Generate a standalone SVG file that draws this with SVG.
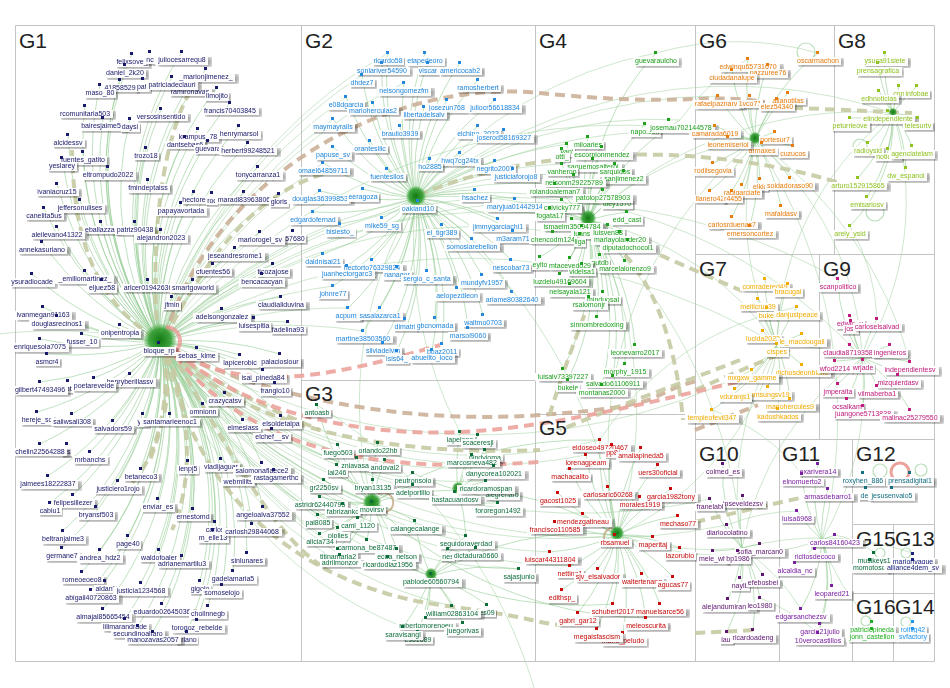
<svg xmlns="http://www.w3.org/2000/svg" width="950" height="688" viewBox="0 0 950 688">
<defs>
<filter id="lb" x="-0.25" y="-0.6" width="1.55" height="2.5" primitiveUnits="objectBoundingBox" color-interpolation-filters="sRGB">
<feFlood flood-color="#000" flood-opacity="0.38" x="0.03" y="0.22" width="1.08" height="1.12" result="s"/>
<feGaussianBlur in="s" stdDeviation="0.045 0.3" result="sb"/>
<feFlood flood-color="#fff" flood-opacity="0.96" x="-0.04" y="0" width="1.08" height="1.05" result="w"/>
<feMerge><feMergeNode in="sb"/><feMergeNode in="w"/><feMergeNode in="SourceGraphic"/></feMerge>
</filter>
<radialGradient id="hub"><stop offset="0" stop-color="#137a13"/><stop offset="0.7" stop-color="#2a9a2a" stop-opacity="0.85"/><stop offset="1" stop-color="#6cc06c" stop-opacity="0.3"/></radialGradient>
</defs>
<style>
.bd{fill:none;stroke:#c4c4c4;stroke-width:1}
.gl{font-family:"Liberation Sans",Arial,sans-serif;font-size:21px;fill:#222;filter:none;text-anchor:start}
.e{fill:none;stroke:#8cc98c;stroke-opacity:.55;stroke-width:1}
.ex{fill:none;stroke:#9bd09b;stroke-opacity:.5;stroke-width:1}
.k{fill:none;stroke:#c6caa3;stroke-width:4;stroke-dasharray:10 6;stroke-opacity:.9}
.r{fill:none;stroke:#c9ab93;stroke-width:4;stroke-dasharray:10 6;stroke-opacity:.85}
.p{fill:none;stroke:#eba39b;stroke-width:4;stroke-dasharray:10 6;stroke-opacity:.9}
.lp{fill:none;stroke:#8cc98c;stroke-opacity:.6;stroke-width:1.2}
text{font-family:"Liberation Sans",Arial,sans-serif;font-size:7px;text-anchor:middle;filter:url(#lb)}
rect{width:3px;height:3px}
.a{fill:#19196b}.b{fill:#2188dd}.c{fill:#0d6e3c}.d{fill:#1ea01e}.f5{fill:#c80a0a}.f{fill:#e87d0c}.g{fill:#f2ad00}.h{fill:#8fc31f}.i{fill:#c01a7c}.j{fill:#5d1670}.k2{fill:#7b1fa2}.l{fill:#126e82}.m{fill:#0b6b3a}.o{fill:#1a237e}.q{fill:#1fb01f}.t{fill:#2196f3}
</style>
<path d="M0 0H950V688H0z" fill="#fff"/>
<g id="panels">
<path class="bd" d="M15.5 25.5H934.5V661.5H15.5zM301.5 25.5V661.5M535.5 25.5V661.5M695.5 25.5V661.5M834.5 25.5V254.5M695.5 254.5H934.5M819.5 254.5V439.5M695.5 439.5H934.5M301.5 380.5H535.5M535.5 414.5H695.5M779.5 439.5V661.5M852.5 439.5V661.5M852.5 524.5H934.5M852.5 593.5H934.5M893.5 524.5V661.5"/>
</g>
<g id="connectors">
<path class="e" d="M160 342A300 300 0 0 1 132 54M160 342A300 300 0 0 1 182 52M160 342A300 300 0 0 1 125 65M160 342A300 300 0 0 1 206 69M160 342A300 300 0 0 1 120 80M160 342A300 300 0 0 1 100 85M160 342A300 300 0 0 1 172 77M160 342A300 300 0 0 1 190 84M160 342A300 300 0 0 1 217 88M160 342A300 300 0 0 1 230 103M160 342A300 300 0 0 1 85 106M160 342A300 300 0 0 1 161 109M160 342A300 300 0 0 1 103 118M160 342A300 300 0 0 1 130 119M160 342A300 300 0 0 1 198 129M160 342A300 300 0 0 1 239 126M160 342A300 300 0 0 1 68 135M160 342A300 300 0 0 1 185 137M160 342A300 300 0 0 1 208 141M160 342A300 300 0 0 1 248 143M160 342A300 300 0 0 1 146 148M160 342A300 300 0 0 1 83 152M160 342A300 300 0 0 1 62 158M160 342A300 300 0 0 1 108 167M160 342A300 300 0 0 1 258 167M160 342A300 300 0 0 1 148 180M160 342A300 300 0 0 1 57 184M160 342A300 300 0 0 1 194 192M160 342A300 300 0 0 1 244 192M160 342A300 300 0 0 1 279 194M160 342A300 300 0 0 1 80 200M160 342A300 300 0 0 1 181 203M160 342A300 300 0 0 1 44 208M160 342A300 300 0 0 1 101 222M160 342A300 300 0 0 1 135 222M160 342A300 300 0 0 1 57 227M160 342A300 300 0 0 1 161 230M160 342A300 300 0 0 1 260 232M160 342A300 300 0 0 1 42 242M160 342A300 300 0 0 1 235 248M160 342A300 300 0 0 1 213 264M160 342A300 300 0 0 1 273 264M160 342A300 300 0 0 1 32 274M160 342A300 300 0 0 1 85 271M160 342A300 300 0 0 1 262 274M160 342A300 300 0 0 1 102 280M160 342A300 300 0 0 1 148 280M160 342A300 300 0 0 1 193 280M160 342A300 300 0 0 1 172 297M160 342A300 300 0 0 1 281 297M160 342A300 300 0 0 1 43 307M160 342A300 300 0 0 1 222 309M160 342A300 300 0 0 1 57 316M160 342A300 300 0 0 1 254 318M160 342A300 300 0 0 1 288 322M160 342A300 300 0 0 1 120 325M160 342A300 300 0 0 1 82 334M160 342A300 300 0 0 1 40 339M160 342A300 300 0 0 1 197 348M160 342A300 300 0 0 1 47 354M160 342A300 300 0 0 1 240 355M160 342A300 300 0 0 1 280 354M160 342A300 300 0 0 1 263 370M160 342A300 300 0 0 1 130 374M160 342A300 300 0 0 1 40 382M160 342A300 300 0 0 1 94 378M160 342A300 300 0 0 1 275 383M160 342A300 300 0 0 1 225 393M160 342A300 300 0 0 1 203 404M160 342A300 300 0 0 1 37 412M160 342A300 300 0 0 1 72 414M160 342A300 300 0 0 1 170 414M160 342A300 300 0 0 1 113 421M160 342A300 300 0 0 1 243 420M160 342A300 300 0 0 1 281 416M160 342A300 300 0 0 1 272 429M160 342A300 300 0 0 1 40 444M160 342A300 300 0 0 1 90 452M160 342A300 300 0 0 1 188 461M160 342A300 300 0 0 1 221 459M160 342A300 300 0 0 1 141 469M160 342A300 300 0 0 1 262 463M160 342A300 300 0 0 1 238 474M160 342A300 300 0 0 1 48 476M160 342A300 300 0 0 1 118 481M160 342A300 300 0 0 1 73 495M160 342A300 300 0 0 1 50 503M160 342A300 300 0 0 1 158 499M160 342A300 300 0 0 1 96 507M160 342A300 300 0 0 1 193 509M160 342A300 300 0 0 1 263 507M160 342A300 300 0 0 1 215 522M160 342A300 300 0 0 1 252 524M160 342A300 300 0 0 1 63 531M160 342A300 300 0 0 1 128 536M160 342A300 300 0 0 1 62 548M160 342A300 300 0 0 1 100 550M160 342A300 300 0 0 1 159 550M160 342A300 300 0 0 1 182 556M160 342A300 300 0 0 1 247 553M160 342A300 300 0 0 1 82 572M160 342A300 300 0 0 1 233 571M160 342A300 300 0 0 1 105 581M160 342A300 300 0 0 1 141 583M160 342A300 300 0 0 1 200 581M160 342A300 300 0 0 1 222 585M160 342A300 300 0 0 1 91 590M160 342A300 300 0 0 1 162 604M160 342A300 300 0 0 1 208 606M160 342A300 300 0 0 1 103 609M160 342A300 300 0 0 1 125 619M160 342A300 300 0 0 1 197 620M160 342A300 300 0 0 1 138 626M160 342A300 300 0 0 1 153 632M160 342A300 300 0 0 1 187 632"/>
<path class="ex" d="M160 342A500 500 0 0 1 323 163M160 342A500 500 0 0 1 333 119M160 342A500 500 0 0 1 346 97M160 342A500 500 0 0 1 362 75M160 342A500 500 0 0 1 388 53M160 342A500 500 0 0 1 404 83M160 342A500 500 0 0 1 416 198M160 342A500 500 0 0 1 320 191M160 342A500 500 0 0 1 340 224M160 342A500 500 0 0 1 323 254M160 342A500 500 0 0 1 333 286M160 342A500 500 0 0 1 348 308M160 342A500 500 0 0 1 363 331M160 342A500 500 0 1 0 317 405M160 342A500 500 0 0 0 338 445M160 342A500 500 0 0 0 357 458M160 342A500 500 0 0 0 337 465M160 342A500 500 0 0 0 324 480M160 342A500 500 0 0 0 320 497M160 342A500 500 0 0 0 343 504M160 342A500 500 0 0 0 318 515M160 342A500 500 0 0 0 338 528M160 342A500 500 0 0 0 320 534M160 342A500 500 0 0 0 367 540M160 342A500 500 0 0 0 338 549M160 342A500 500 0 0 0 340 555M160 342A500 500 0 0 0 372 503M160 342A500 500 0 0 0 431 576M160 342A500 500 0 0 0 413 485M160 342A500 500 0 0 0 466 536M160 342A500 500 0 0 1 588 220M160 342A500 500 0 0 1 562 200M160 342A500 500 0 0 1 553 232M160 342A500 500 0 0 0 617 535M160 342A500 500 0 0 0 600 440M160 342A500 500 0 0 0 550 552M160 342A500 500 0 0 0 570 566M160 342A500 500 0 0 0 586 455M160 342A600 600 0 0 0 752 370M160 342A600 600 0 0 1 777 345M160 342A600 600 0 0 1 755 140M160 342A600 600 0 0 1 838 279M160 342A600 600 0 0 0 710 499M160 342A600 600 0 0 0 727 525M160 342A400 400 0 0 0 498 503M160 342A400 400 0 0 0 519 569M160 342A400 400 0 0 0 452 606M160 342A400 400 0 0 0 403 627M160 342A400 400 0 0 0 486 481M160 342A400 400 0 0 0 494 466"/>
<path class="e" d="M416 198A250 250 0 0 1 388 53M416 198A250 250 0 0 1 425 53M416 198A250 250 0 0 1 382 63M416 198A250 250 0 0 1 428 63M416 198A250 250 0 0 1 460 63M416 198A250 250 0 0 1 362 75M416 198A250 250 0 0 1 404 83M416 198A250 250 0 0 1 478 80M416 198A250 250 0 0 1 346 97M416 198A250 250 0 0 1 373 103M416 198A250 250 0 0 1 447 100M416 198A250 250 0 0 1 495 100M416 198A250 250 0 0 1 424 107M416 198A250 250 0 0 1 333 119M416 198A250 250 0 0 1 400 126M416 198A250 250 0 0 1 478 126M416 198A250 250 0 0 1 504 130M416 198A250 250 0 0 1 370 141M416 198A250 250 0 0 1 333 147M416 198A250 250 0 0 1 430 159M416 198A250 250 0 0 1 460 153M416 198A250 250 0 0 1 495 161M416 198A250 250 0 0 1 323 163M416 198A250 250 0 0 1 387 169M416 198A250 250 0 0 1 513 169M416 198A250 250 0 0 1 320 191M416 198A250 250 0 0 1 363 189M416 198A250 250 0 0 1 475 190M416 198A250 250 0 0 1 515 199M416 198A250 250 0 0 1 313 212M416 198A250 250 0 0 1 382 218M416 198A250 250 0 0 1 340 224M416 198A250 250 0 0 1 442 225M416 198A250 250 0 0 1 498 219M416 198A250 250 0 0 1 513 231M416 198A250 250 0 0 1 472 239M416 198A250 250 0 0 1 323 254M416 198A250 250 0 0 1 372 260M416 198A250 250 0 0 1 347 266M416 198A250 250 0 0 1 397 267M416 198A250 250 0 0 1 427 271M416 198A250 250 0 0 1 511 260M416 198A250 250 0 0 1 482 275M416 198A250 250 0 0 1 333 286M416 198A250 250 0 0 1 457 288M416 198A250 250 0 0 1 512 292M416 198A250 250 0 0 1 348 308M416 198A250 250 0 0 1 380 308M416 198A250 250 0 0 1 483 315M416 198A250 250 0 0 1 405 319M416 198A250 250 0 0 1 435 318M416 198A250 250 0 0 1 468 328M416 198A250 250 0 0 1 363 331M416 198A250 250 0 0 1 383 343M416 198A250 250 0 0 1 442 344M416 198A250 250 0 0 1 397 351M416 198A250 250 0 0 1 432 350"/>
<path class="ex" d="M416 198A400 400 0 0 1 588 220M416 198A400 400 0 0 1 567 144M416 198A400 400 0 0 1 562 164M416 198A400 400 0 0 1 574 175M416 198A400 400 0 0 1 555 184M416 198A400 400 0 0 1 656 53M416 198A400 400 0 0 1 680 120M416 198A500 500 0 0 1 755 140M416 198A500 500 0 0 1 720 96M416 198A400 400 0 0 0 460 432M416 198A400 400 0 0 0 372 503M416 198A500 500 0 0 1 617 535M416 198A500 500 0 0 1 893 113M416 198A500 500 0 0 1 862 358"/>
<path class="e" d="M372 503A200 200 0 0 1 317 405M372 503A200 200 0 0 1 338 445M372 503A200 200 0 0 1 378 443M372 503A200 200 0 0 1 357 458M372 503A200 200 0 0 1 385 460M372 503A200 200 0 0 1 337 465M372 503A200 200 0 0 1 413 473M372 503A200 200 0 0 1 324 480M372 503A200 200 0 0 1 373 480M372 503A200 200 0 0 1 413 485M372 503A200 200 0 0 1 320 497M372 503A200 200 0 0 1 343 504M372 503A200 200 0 0 1 318 515M372 503A200 200 0 0 1 358 518M372 503A200 200 0 0 1 415 521M372 503A200 200 0 0 1 338 528M372 503A200 200 0 0 1 320 534M372 503A200 200 0 0 1 367 540M372 503A200 200 0 0 1 338 549M372 503A200 200 0 0 1 397 549M372 503A200 200 0 0 1 340 555M372 503A200 200 0 0 1 388 557M431 576A200 200 0 0 1 397 549M431 576A200 200 0 0 1 388 557M431 576A200 200 0 0 1 448 549M431 576A200 200 0 0 1 476 548M431 576A200 200 0 0 1 452 606M431 576A200 200 0 0 1 487 605M431 576A200 200 0 0 1 426 618M431 576A200 200 0 0 1 463 623M431 576A200 200 0 0 1 403 627M431 576A200 200 0 0 1 418 632M431 576A200 200 0 0 1 466 536M431 576A200 200 0 0 1 519 569M431 576A200 200 0 0 1 415 521M458 490A200 200 0 0 1 460 432M458 490A200 200 0 0 1 478 435M458 490A200 200 0 0 1 485 450M458 490A200 200 0 0 1 472 455M458 490A200 200 0 0 1 494 466M458 490A200 200 0 0 1 486 481M458 490A200 200 0 0 1 500 487M458 490A200 200 0 0 1 498 503M458 490A200 200 0 0 1 466 536M458 490A200 200 0 0 1 413 473M372 503A300 300 0 0 1 458 490M431 576A300 300 0 0 1 617 535M458 490A300 300 0 0 1 617 535M372 503A400 400 0 0 1 600 440M431 576A400 400 0 0 0 613 604M372 503A400 400 0 0 0 646 618"/>
<path class="e" d="M588 220A250 250 0 0 1 656 53M588 220A250 250 0 0 1 645 124M588 220A250 250 0 0 1 680 120M588 220A250 250 0 0 1 588 137M588 220A250 250 0 0 1 567 144M588 220A250 250 0 0 1 562 149M588 220A250 250 0 0 1 602 147M588 220A250 250 0 0 1 593 159M588 220A250 250 0 0 1 562 164M588 220A250 250 0 0 1 615 164M588 220A250 250 0 0 1 624 171M588 220A250 250 0 0 1 574 175M588 220A250 250 0 0 1 555 184M588 220A250 250 0 0 1 603 190M588 220A250 250 0 0 1 617 196M588 220A250 250 0 0 1 562 200M588 220A250 250 0 0 1 550 208M588 220A250 250 0 0 1 627 212M588 220A250 250 0 0 1 572 219M588 220A250 250 0 0 1 582 226M588 220A250 250 0 0 1 608 225M588 220A250 250 0 0 1 553 232M588 220A250 250 0 0 1 620 232M588 220A250 250 0 0 1 580 234M588 220A250 250 0 0 1 628 240M588 220A250 250 0 0 1 540 257M588 220A250 250 0 0 1 600 255M588 220A250 250 0 0 1 570 258M588 220A250 250 0 0 1 625 261M588 220A250 250 0 0 1 582 264M588 220A250 250 0 0 1 560 274M588 220A250 250 0 0 1 570 284M588 220A250 250 0 0 1 603 292M588 220A250 250 0 0 1 589 297M588 220A250 250 0 0 1 597 317M588 220A250 250 0 0 1 635 345M588 220A250 250 0 0 1 625 364M588 220A250 250 0 0 1 563 369M588 220A250 250 0 0 1 613 376M588 220A250 250 0 0 1 568 380M588 220A250 250 0 0 1 602 385"/>
<path class="e" d="M617 535A200 200 0 0 1 600 440M617 535A200 200 0 0 1 612 445M617 535A200 200 0 0 1 641 448M617 535A200 200 0 0 1 586 455M617 535A200 200 0 0 1 658 465M617 535A200 200 0 0 1 570 469M617 535A200 200 0 0 1 608 487M617 535A200 200 0 0 1 671 489M617 535A200 200 0 0 1 558 493M617 535A200 200 0 0 1 640 497M617 535A200 200 0 0 1 583 514M617 535A200 200 0 0 1 678 516M617 535A200 200 0 0 1 555 522M617 535A200 200 0 0 1 653 537M617 535A200 200 0 0 1 680 548M617 535A200 200 0 0 1 550 552M617 535A200 200 0 0 1 570 566M617 535A200 200 0 0 1 598 569M617 535A200 200 0 0 1 642 574M617 535A200 200 0 0 1 673 577M617 535A200 200 0 0 1 562 590M617 535A200 200 0 0 1 613 604M617 535A200 200 0 0 1 660 604M617 535A200 200 0 0 1 578 613M617 535A200 200 0 0 1 646 618M617 535A200 200 0 0 1 597 629M617 535A200 200 0 0 1 623 633"/>
<path class="e" d="M755 140A200 200 0 0 1 818 53M755 140A200 200 0 0 1 748 59M755 140A200 200 0 0 1 768 65M755 140A200 200 0 0 1 732 70M755 140A200 200 0 0 1 718 96M755 140A200 200 0 0 1 750 96M755 140A200 200 0 0 1 788 93M755 140A200 200 0 0 1 777 99M755 140A200 200 0 0 1 715 126M755 140A200 200 0 0 1 775 132M755 140A200 200 0 0 1 728 137M755 140A200 200 0 0 1 762 143M755 140A200 200 0 0 1 793 146M755 140A200 200 0 0 1 713 163M755 140A200 200 0 0 1 790 178M755 140A200 200 0 0 1 760 179M755 140A200 200 0 0 1 742 185M755 140A200 200 0 0 1 710 191M755 140A200 200 0 0 1 732 191M755 140A200 200 0 0 1 781 206M755 140A200 200 0 0 1 732 217M755 140A200 200 0 0 1 750 226M777 345A200 200 0 0 1 765 279M777 345A200 200 0 0 1 788 284M777 345A200 200 0 0 1 758 299M777 345A200 200 0 0 1 767 308M777 345A200 200 0 0 1 797 307M777 345A200 200 0 0 1 763 331M777 345A200 200 0 0 1 802 334M777 345A200 200 0 0 1 802 365M777 345A200 200 0 0 1 752 370M777 345A200 200 0 0 1 768 387M777 345A200 200 0 0 1 735 389M777 345A200 200 0 0 1 790 399M777 345A200 200 0 0 1 778 409M777 345A200 200 0 0 1 712 410M893 113A150 150 0 0 1 885 53M893 113A150 150 0 0 1 878 63M893 113A150 150 0 0 1 899 86M893 113A150 150 0 0 1 917 86M893 113A150 150 0 0 1 879 91M893 113A150 150 0 0 1 918 118M893 113A150 150 0 0 1 850 118M893 113A150 150 0 0 1 868 143M893 113A150 150 0 0 1 888 149M893 113A150 150 0 0 1 912 146M893 113A150 150 0 0 1 906 168M893 113A150 150 0 0 1 858 178M893 113A150 150 0 0 1 867 197M893 113A150 150 0 0 1 850 226M862 358A150 150 0 0 1 838 279M862 358A150 150 0 0 1 850 316M862 358A150 150 0 0 1 851 321M862 358A150 150 0 0 1 877 319M862 358A150 150 0 0 1 850 345M862 358A150 150 0 0 1 890 345M862 358A150 150 0 0 1 835 361M862 358A150 150 0 0 1 910 362M862 358A150 150 0 0 1 898 375M862 358A150 150 0 0 1 838 384M862 358A150 150 0 0 1 877 386M862 358A150 150 0 0 1 847 399M862 358A150 150 0 0 1 863 406M862 358A150 150 0 0 1 910 410M742 548A150 150 0 0 1 723 464M742 548A150 150 0 0 1 743 496M742 548A150 150 0 0 1 710 499M742 548A150 150 0 0 1 727 525M742 548A150 150 0 0 1 760 544M742 548A150 150 0 0 1 713 551M742 548A150 150 0 0 1 738 551M742 548A150 150 0 0 1 740 578M742 548A150 150 0 0 1 763 575M742 548A150 150 0 0 1 728 599M742 548A150 150 0 0 1 760 598M742 548A150 150 0 0 1 727 632M742 548A150 150 0 0 1 753 630M822 540A150 150 0 0 1 818 464M822 540A150 150 0 0 1 802 474M822 540A150 150 0 0 1 828 489M822 540A150 150 0 0 1 797 511M822 540A150 150 0 0 1 835 535M822 540A150 150 0 0 1 815 549M822 540A150 150 0 0 1 795 563M822 540A150 150 0 0 1 832 586M822 540A150 150 0 0 1 801 609M822 540A150 150 0 0 1 820 624M822 540A150 150 0 0 1 818 633"/>
<path class="ex" d="M588 220A300 300 0 0 1 755 140M617 535A300 300 0 0 0 777 345M755 140A300 300 0 0 1 862 358M617 535A300 300 0 0 0 742 548M617 535A300 300 0 0 0 822 540M588 220A400 400 0 0 1 617 535M893 113A300 300 0 0 1 862 358M755 140A300 300 0 0 0 777 345M777 345A300 300 0 0 1 862 358M588 220A300 300 0 0 1 777 345M588 220A400 400 0 0 1 893 113M755 140A400 400 0 0 1 910 362M742 548A300 300 0 0 1 862 358M777 345A300 300 0 0 0 742 548M822 540A300 300 0 0 0 862 358M755 140A500 500 0 0 1 822 540M588 220A500 500 0 0 1 742 548M777 345A300 300 0 0 1 893 113M617 535A400 400 0 0 1 755 140M712 410A200 200 0 0 1 802 474M600 440A300 300 0 0 1 797 307M850 226A200 200 0 0 1 877 319M656 53A300 300 0 0 1 818 53M680 120A200 200 0 0 1 748 59M742 548A200 200 0 0 1 801 609M760 598A200 200 0 0 1 818 633M727 525A200 200 0 0 1 797 511M835 535A100 100 0 0 1 874 552M742 548A300 300 0 0 1 913 553M822 540A200 200 0 0 0 872 622"/>
<path class="r" d="M165 336C215 175 390 78 540 93S700 92 765 102"/>
<path class="k" d="M777 107L912 113"/>
<path class="k" d="M418 195C480 170 540 158 620 155S790 165 855 188"/>
<path class="k" d="M155 338C95 300 74 240 72 150"/>
<path class="k" d="M158 336C150 250 160 150 188 95"/>
<path class="k" d="M165 338C210 250 260 190 330 172"/>
<path class="k" d="M165 352C170 420 150 470 125 489"/>
<path class="k" d="M168 352C195 430 190 490 172 530"/>
<path class="k" d="M170 350C230 450 270 530 320 565"/>
<path class="r" d="M172 350C260 395 400 425 540 415S640 395 700 380"/>
<path class="k" d="M172 352C260 440 420 455 540 450"/>
<path class="k" d="M168 356C200 520 330 590 440 605S520 620 560 625"/>
<path class="k" d="M600 235C645 260 675 330 683 420"/>
<path class="k" d="M590 300C575 340 560 380 548 420"/>
<path class="k" d="M740 360C690 380 620 405 560 430"/>
<path class="k" d="M660 255C690 268 720 282 745 292"/>
<path class="k" d="M695 390C730 375 760 362 790 350"/>
<path class="r" d="M695 430C720 420 740 412 758 405"/>
<path class="k" d="M695 522C740 512 780 502 805 497"/>
<path class="k" d="M695 633C720 632 740 631 753 630"/>
<path class="k" d="M175 355C220 385 260 405 320 430"/>
<path class="k" d="M165 355C172 390 165 420 150 460"/>
<path class="p" d="M175 350C250 420 380 436 460 432S620 410 745 380"/>
<path class="p" d="M172 348C240 395 330 378 440 345"/>
<path class="p" d="M175 356C270 470 420 470 540 462"/>
</g>
<g id="hubs">
<circle cx="160" cy="340" r="16" fill="url(#hub)"/>
<path d="M166 327A14 14 0 0 1 166 355" fill="none" stroke="#f08e8e" stroke-width="4" stroke-opacity=".7"/>
<circle cx="416" cy="196" r="10" fill="url(#hub)"/>
<circle cx="372" cy="502" r="9" fill="url(#hub)"/>
<path d="M378 494A10 10 0 1 1 380 512" fill="none" stroke="#b8986e" stroke-width="2" stroke-opacity=".7"/>
<circle cx="431" cy="574" r="6" fill="url(#hub)"/>
<circle cx="458" cy="488" r="6" fill="url(#hub)"/>
<circle cx="588" cy="218" r="8" fill="url(#hub)"/>
<circle cx="617" cy="533" r="7" fill="url(#hub)"/>
<path d="M612 528A9 9 0 1 0 614 546" fill="none" stroke="#b8986e" stroke-width="2" stroke-opacity=".7"/>
<circle cx="755" cy="138" r="6" fill="url(#hub)"/>
<circle cx="893" cy="112" r="4" fill="url(#hub)"/>
<circle class="lp" cx="806" cy="52" r="9"/>
<circle class="lp" cx="860" cy="146" r="7"/>
<circle class="lp" cx="875" cy="212" r="9"/>
<circle class="lp" cx="880" cy="471" r="7"/>
<circle cx="900" cy="472" r="9" fill="none" stroke="#eba39b" stroke-width="3"/>
<circle class="lp" cx="921" cy="470" r="6"/>
<circle class="lp" cx="880" cy="553" r="5"/>
<circle class="lp" cx="906" cy="553" r="5"/>
<circle class="lp" cx="866" cy="621" r="5"/>
<circle class="lp" cx="906" cy="622" r="5"/>
</g>
<g id="grouplabels">
<text class="gl" x="19" y="48">G1</text>
<text class="gl" x="305" y="48">G2</text>
<text class="gl" x="305" y="401">G3</text>
<text class="gl" x="539" y="48">G4</text>
<text class="gl" x="539" y="435">G5</text>
<text class="gl" x="699" y="48">G6</text>
<text class="gl" x="838" y="48">G8</text>
<text class="gl" x="699" y="276">G7</text>
<text class="gl" x="823" y="276">G9</text>
<text class="gl" x="699" y="461">G10</text>
<text class="gl" x="782" y="461">G11</text>
<text class="gl" x="856" y="461">G12</text>
<text class="gl" x="856" y="546">G15</text>
<text class="gl" x="895" y="546">G13</text>
<text class="gl" x="856" y="614">G16</text>
<text class="gl" x="895" y="614">G14</text>
</g>
<g id="nodes">
<g id="n_felixsove_" class="a"><rect x="130" y="52"/><text x="132" y="64">felixsove_</text></g>
<g id="n_nc" class="a"><rect x="148" y="50"/><text x="150" y="62">nc</text></g>
<g id="n_juliocesarrequ8" class="a"><rect x="180" y="50"/><text x="182" y="62">juliocesarrequ8</text></g>
<g id="n_daniel_2k20" class="a"><rect x="123" y="63"/><text x="125" y="75">daniel_2k20</text></g>
<g id="n__marionjimenez_" class="a"><rect x="204" y="67"/><text x="206" y="79">_marionjimenez_</text></g>
<g id="n_41858529" class="a"><rect x="118" y="78"/><text x="120" y="90">41858529</text></g>
<g id="n_patr" class="a"><rect x="141" y="77"/><text x="143" y="89">patr</text></g>
<g id="n_ramironavas" class="a"><rect x="188" y="82"/><text x="190" y="94">ramironavas</text></g>
<g id="n_patriciadeclauri" class="a"><rect x="170" y="75"/><text x="172" y="87">patriciadeclauri</text></g>
<g id="n_maso_80" class="a"><rect x="98" y="83"/><text x="100" y="95">maso_80</text></g>
<g id="n_limojito" class="a"><rect x="215" y="86"/><text x="217" y="98">limojito</text></g>
<g id="n_francis70403845" class="a"><rect x="228" y="101"/><text x="230" y="113">francis70403845</text></g>
<g id="n_rcomunitaria503" class="a"><rect x="83" y="104"/><text x="85" y="116">rcomunitaria503</text></g>
<g id="n_versosinsentido" class="a"><rect x="159" y="107"/><text x="161" y="119">versosinsentido</text></g>
<g id="n_bairesjaime55" class="a"><rect x="101" y="116"/><text x="103" y="128">bairesjaime55</text></g>
<g id="n_daysi" class="a"><rect x="128" y="117"/><text x="130" y="129">daysi</text></g>
<g id="n_krampus_78" class="a"><rect x="196" y="127"/><text x="198" y="139">krampus_78</text></g>
<g id="n_henrymarsol" class="a"><rect x="237" y="124"/><text x="239" y="136">henrymarsol</text></g>
<g id="n_alcidessv" class="a"><rect x="66" y="133"/><text x="68" y="145">alcidessv</text></g>
<g id="n_dantsebas6" class="a"><rect x="183" y="135"/><text x="185" y="147">dantsebas6</text></g>
<g id="n_guevara" class="a"><rect x="206" y="139"/><text x="208" y="151">guevara</text></g>
<g id="n_herbert99248521" class="a"><rect x="246" y="141"/><text x="248" y="153">herbert99248521</text></g>
<g id="n_trozo18" class="a"><rect x="144" y="146"/><text x="146" y="158">trozo18</text></g>
<g id="n_fuentes_gatito" class="a"><rect x="81" y="150"/><text x="83" y="162">fuentes_gatito</text></g>
<g id="n_yeslarey" class="a"><rect x="60" y="156"/><text x="62" y="168">yeslarey</text></g>
<g id="n_eltrompudo2022" class="a"><rect x="106" y="165"/><text x="108" y="177">eltrompudo2022</text></g>
<g id="n_tonycarranza1" class="a"><rect x="256" y="165"/><text x="258" y="177">tonycarranza1</text></g>
<g id="n_fmindeptalss" class="a"><rect x="146" y="178"/><text x="148" y="190">fmindeptalss</text></g>
<g id="n_ivaniacruz15" class="a"><rect x="55" y="182"/><text x="57" y="194">ivaniacruz15</text></g>
<g id="n_hectore" class="a"><rect x="192" y="190"/><text x="194" y="202">hectore</text></g>
<g id="n_roc" class="a"><rect x="210" y="191"/><text x="212" y="203">roc</text></g>
<g id="n_maradi83963806" class="a"><rect x="242" y="190"/><text x="244" y="202">maradi83963806</text></g>
<g id="n_gloris" class="a"><rect x="277" y="192"/><text x="279" y="204">gloris</text></g>
<g id="n_jeffersonulises" class="a"><rect x="78" y="198"/><text x="80" y="210">jeffersonulises</text></g>
<g id="n_papayavortada" class="a"><rect x="179" y="201"/><text x="181" y="213">papayavortada</text></g>
<g id="n_canelita5us" class="a"><rect x="42" y="206"/><text x="44" y="218">canelita5us</text></g>
<g id="n_eballazzar" class="a"><rect x="99" y="220"/><text x="101" y="232">eballazzar</text></g>
<g id="n_patriz90438" class="a"><rect x="133" y="220"/><text x="135" y="232">patriz90438</text></g>
<g id="n_aleilevano41322" class="a"><rect x="55" y="225"/><text x="57" y="237">aleilevano41322</text></g>
<g id="n_alejandron2023" class="a"><rect x="159" y="228"/><text x="161" y="240">alejandron2023</text></g>
<g id="n_957680" class="a"><rect x="291" y="229"/><text x="293" y="241">957680</text></g>
<g id="n_mariorogel_sv" class="a"><rect x="258" y="230"/><text x="260" y="242">mariorogel_sv</text></g>
<g id="n_annekasuriano" class="a"><rect x="40" y="240"/><text x="42" y="252">annekasuriano</text></g>
<g id="n_jeseandresrome1" class="a"><rect x="233" y="246"/><text x="235" y="258">jeseandresrome1</text></g>
<g id="n_cfuentes56" class="a"><rect x="211" y="262"/><text x="213" y="274">cfuentes56</text></g>
<g id="n_ticozajose" class="a"><rect x="271" y="262"/><text x="273" y="274">ticozajose</text></g>
<g id="n_ysuradiocade" class="a"><rect x="30" y="272"/><text x="32" y="284">ysuradiocade</text></g>
<g id="n__emiliomartinez_" class="a"><rect x="83" y="269"/><text x="85" y="281">_emiliomartinez_</text></g>
<g id="n_bencacacyan" class="a"><rect x="260" y="272"/><text x="262" y="284">bencacacyan</text></g>
<g id="n_eljuez58" class="a"><rect x="100" y="278"/><text x="102" y="290">eljuez58</text></g>
<g id="n_arlcer01942636" class="a"><rect x="146" y="278"/><text x="148" y="290">arlcer01942636</text></g>
<g id="n_smartgoworld" class="a"><rect x="191" y="278"/><text x="193" y="290">smartgoworld</text></g>
<g id="n_jfmin" class="a"><rect x="170" y="295"/><text x="172" y="307">jfmin</text></g>
<g id="n_claudialiduvina" class="a"><rect x="279" y="295"/><text x="281" y="307">claudialiduvina</text></g>
<g id="n_ivanmegan91163" class="a"><rect x="41" y="305"/><text x="43" y="317">ivanmegan91163</text></g>
<g id="n_adelsongonzalez" class="a"><rect x="220" y="307"/><text x="222" y="319">adelsongonzalez</text></g>
<g id="n_douglasrecinos1" class="a"><rect x="55" y="314"/><text x="57" y="326">douglasrecinos1</text></g>
<g id="n_fadelina93" class="a"><rect x="286" y="320"/><text x="288" y="332">fadelina93</text></g>
<g id="n_luisespitia" class="a"><rect x="252" y="316"/><text x="254" y="328">luisespitia</text></g>
<g id="n_onipentropia" class="a"><rect x="118" y="323"/><text x="120" y="335">onipentropia</text></g>
<g id="n_fusser_10" class="a"><rect x="80" y="332"/><text x="82" y="344">fusser_10</text></g>
<g id="n_enriquesola7075" class="a"><rect x="38" y="337"/><text x="40" y="349">enriquesola7075</text></g>
<g id="n_bloque_rp" class="a"><rect x="157" y="341"/><text x="159" y="353">bloque_rp</text></g>
<g id="n_sebas_kime" class="a"><rect x="195" y="346"/><text x="197" y="358">sebas_kime</text></g>
<g id="n_asmcr4" class="a"><rect x="45" y="352"/><text x="47" y="364">asmcr4</text></g>
<g id="n_lapicerobic" class="a"><rect x="238" y="353"/><text x="240" y="365">lapicerobic</text></g>
<g id="n_palaciosiour" class="a"><rect x="278" y="352"/><text x="280" y="364">palaciosiour</text></g>
<g id="n_isai_pineda84" class="a"><rect x="261" y="368"/><text x="263" y="380">isai_pineda84</text></g>
<g id="n_henryberillassv" class="a"><rect x="128" y="372"/><text x="130" y="384">henryberillassv</text></g>
<g id="n_int" class="a"><rect x="66" y="379"/><text x="68" y="391">int</text></g>
<g id="n_gilbert47493496" class="a"><rect x="38" y="380"/><text x="40" y="392">gilbert47493496</text></g>
<g id="n_poetareveide" class="a"><rect x="92" y="376"/><text x="94" y="388">poetareveide</text></g>
<g id="n_franglo10" class="a"><rect x="273" y="381"/><text x="275" y="393">franglo10</text></g>
<g id="n_crazycatsv" class="a"><rect x="223" y="391"/><text x="225" y="403">crazycatsv</text></g>
<g id="n_omnionn" class="a"><rect x="201" y="402"/><text x="203" y="414">omnionn</text></g>
<g id="n_hereje_so" class="a"><rect x="35" y="410"/><text x="37" y="422">hereje_so</text></g>
<g id="n_saliwsali308" class="a"><rect x="70" y="412"/><text x="72" y="424">saliwsali308</text></g>
<g id="n_yoc" class="a"><rect x="141" y="412"/><text x="143" y="424">yoc</text></g>
<g id="n_santamarieenoc1" class="a"><rect x="168" y="412"/><text x="170" y="424">santamarieenoc1</text></g>
<g id="n_salvadors59" class="a"><rect x="111" y="419"/><text x="113" y="431">salvadors59</text></g>
<g id="n_elmesiass" class="a"><rect x="241" y="418"/><text x="243" y="430">elmesiass</text></g>
<g id="n_elsoldetalpa" class="a"><rect x="279" y="414"/><text x="281" y="426">elsoldetalpa</text></g>
<g id="n_elchef__sv" class="a"><rect x="270" y="427"/><text x="272" y="439">elchef__sv</text></g>
<g id="n_cs" class="a"><rect x="65" y="442"/><text x="67" y="454">cs</text></g>
<g id="n_chelin22564288" class="a"><rect x="38" y="442"/><text x="40" y="454">chelin22564288</text></g>
<g id="n_mrbanchs" class="a"><rect x="88" y="450"/><text x="90" y="462">mrbanchs</text></g>
<g id="n_lenpj5" class="a"><rect x="186" y="459"/><text x="188" y="471">lenpj5</text></g>
<g id="n_vladijaguar" class="a"><rect x="219" y="457"/><text x="221" y="469">vladijaguar</text></g>
<g id="n_betaneco3" class="a"><rect x="139" y="467"/><text x="141" y="479">betaneco3</text></g>
<g id="n_webmilits" class="a"><rect x="236" y="472"/><text x="238" y="484">webmilits</text></g>
<g id="n_salomonaflaece2" class="a"><rect x="260" y="461"/><text x="262" y="473">salomonaflaece2</text></g>
<g id="n_rastagamerthc" class="a"><rect x="272" y="468"/><text x="276" y="480">rastagamerthc</text></g>
<g id="n_jaimees18222837" class="a"><rect x="46" y="474"/><text x="48" y="486">jaimees18222837</text></g>
<g id="n_justiciero1rojo" class="a"><rect x="116" y="479"/><text x="118" y="491">justiciero1rojo</text></g>
<g id="n_felipesillezer" class="a"><rect x="71" y="493"/><text x="73" y="505">felipesillezer</text></g>
<g id="n_cabiu1" class="a"><rect x="48" y="501"/><text x="50" y="513">cabiu1</text></g>
<g id="n_enviar_es" class="a"><rect x="156" y="497"/><text x="158" y="509">enviar_es</text></g>
<g id="n_bryansf503" class="a"><rect x="94" y="505"/><text x="96" y="517">bryansf503</text></g>
<g id="n_ernestomd" class="a"><rect x="191" y="507"/><text x="193" y="519">ernestomd</text></g>
<g id="n_angeloalva37552" class="a"><rect x="261" y="505"/><text x="263" y="517">angeloalva37552</text></g>
<g id="n_carlos" class="a"><rect x="213" y="520"/><text x="215" y="532">carlos</text></g>
<g id="n_m_elle13" class="a"><rect x="211" y="528"/><text x="213" y="540">m_elle13</text></g>
<g id="n_carlosh29844068" class="a"><rect x="250" y="522"/><text x="252" y="534">carlosh29844068</text></g>
<g id="n_beltranjaime3" class="a"><rect x="61" y="529"/><text x="63" y="541">beltranjaime3</text></g>
<g id="n_page40" class="a"><rect x="126" y="534"/><text x="128" y="546">page40</text></g>
<g id="n_germane7" class="a"><rect x="60" y="546"/><text x="62" y="558">germane7</text></g>
<g id="n_andrea_hdz2" class="a"><rect x="98" y="548"/><text x="100" y="560">andrea_hdz2</text></g>
<g id="n_waldofoaler" class="a"><rect x="157" y="548"/><text x="159" y="560">waldofoaler</text></g>
<g id="n_adrianemartilu3" class="a"><rect x="180" y="554"/><text x="182" y="566">adrianemartilu3</text></g>
<g id="n_sinlunares" class="a"><rect x="245" y="551"/><text x="247" y="563">sinlunares</text></g>
<g id="n_romeoeoeo8" class="a"><rect x="80" y="570"/><text x="82" y="582">romeoeoeo8</text></g>
<g id="n_gadelamaria5" class="a"><rect x="231" y="569"/><text x="233" y="581">gadelamaria5</text></g>
<g id="n_aldanf" class="a"><rect x="103" y="579"/><text x="105" y="591">aldanf</text></g>
<g id="n_justicia1234568" class="a"><rect x="139" y="581"/><text x="141" y="593">justicia1234568</text></g>
<g id="n_gigolo" class="a"><rect x="198" y="579"/><text x="200" y="591">gigolo</text></g>
<g id="n_somoselojo" class="a"><rect x="220" y="583"/><text x="222" y="595">somoselojo</text></g>
<g id="n_abigail40720863" class="a"><rect x="89" y="588"/><text x="91" y="600">abigail40720863</text></g>
<g id="n_eduardo02645036" class="a"><rect x="160" y="602"/><text x="162" y="614">eduardo02645036</text></g>
<g id="n_chollnnegb" class="a"><rect x="206" y="604"/><text x="208" y="616">chollnnegb</text></g>
<g id="n_almajal85665454" class="a"><rect x="101" y="607"/><text x="103" y="619">almajal85665454</text></g>
<g id="n_lilimarandrade" class="a"><rect x="123" y="617"/><text x="125" y="629">lilimarandrade</text></g>
<g id="n_torogoz_rebelde" class="a"><rect x="195" y="618"/><text x="197" y="630">torogoz_rebelde</text></g>
<g id="n_orlano" class="a"><rect x="185" y="630"/><text x="187" y="642">orlano</text></g>
<g id="n_secundinoalfaro" class="a"><rect x="136" y="624"/><text x="138" y="636">secundinoalfaro</text></g>
<g id="n_manozavas2057" class="a"><rect x="151" y="630"/><text x="153" y="642">manozavas2057</text></g>
<g id="n_ricardo58" class="b"><rect x="386" y="51"/><text x="388" y="63">ricardo58</text></g>
<g id="n_etapedeoro" class="b"><rect x="423" y="51"/><text x="425" y="63">etapedeoro</text></g>
<g id="n_sonlariver54590" class="b"><rect x="380" y="61"/><text x="382" y="73">sonlariver54590</text></g>
<g id="n_viscar" class="b"><rect x="426" y="61"/><text x="428" y="73">viscar</text></g>
<g id="n_americocab2" class="b"><rect x="458" y="61"/><text x="460" y="73">americocab2</text></g>
<g id="n_dhdez7" class="b"><rect x="360" y="73"/><text x="362" y="85">dhdez7</text></g>
<g id="n_nelsongomezfm" class="b"><rect x="402" y="81"/><text x="404" y="93">nelsongomezfm</text></g>
<g id="n_ramosherbert" class="b"><rect x="476" y="78"/><text x="478" y="90">ramosherbert</text></g>
<g id="n_e08dgarcia" class="b"><rect x="344" y="95"/><text x="346" y="107">e08dgarcia</text></g>
<g id="n_marioherculas2" class="b"><rect x="371" y="101"/><text x="373" y="113">marioherculas2</text></g>
<g id="n_josezun768" class="b"><rect x="445" y="98"/><text x="447" y="110">josezun768</text></g>
<g id="n_juliocr56618834" class="b"><rect x="493" y="98"/><text x="495" y="110">juliocr56618834</text></g>
<g id="n_libertadelsalv" class="b"><rect x="422" y="105"/><text x="424" y="117">libertadelsalv</text></g>
<g id="n_maymayralls" class="b"><rect x="331" y="117"/><text x="333" y="129">maymayralls</text></g>
<g id="n_braulio3939" class="b"><rect x="398" y="124"/><text x="400" y="136">braulio3939</text></g>
<g id="n_elchino_2023" class="b"><rect x="476" y="124"/><text x="478" y="136">elchino_2023</text></g>
<g id="n_joserod58169327" class="b"><rect x="502" y="128"/><text x="504" y="140">joserod58169327</text></g>
<g id="n_orantesilic" class="b"><rect x="368" y="139"/><text x="370" y="151">orantesilic</text></g>
<g id="n_papuse_sv" class="b"><rect x="331" y="145"/><text x="333" y="157">papuse_sv</text></g>
<g id="n_hwq7cg24tx" class="b"><rect x="458" y="151"/><text x="460" y="163">hwq7cg24tx</text></g>
<g id="n_ho2885" class="b"><rect x="428" y="157"/><text x="430" y="169">ho2885</text></g>
<g id="n_negrito2007" class="b"><rect x="493" y="159"/><text x="495" y="171">negrito2007</text></g>
<g id="n_omael64859711" class="b"><rect x="321" y="161"/><text x="323" y="173">omael64859711</text></g>
<g id="n_fuentesllos" class="b"><rect x="385" y="167"/><text x="387" y="179">fuentesllos</text></g>
<g id="n_justiciaforojo8" class="b"><rect x="511" y="167"/><text x="516" y="179">justiciaforojo8</text></g>
<g id="n_douglas36399853" class="b"><rect x="318" y="189"/><text x="320" y="201">douglas36399853</text></g>
<g id="n_eeragoza" class="b"><rect x="361" y="187"/><text x="363" y="199">eeragoza</text></g>
<g id="n_hsachez" class="b"><rect x="473" y="188"/><text x="475" y="200">hsachez</text></g>
<g id="n_maryjua01442914" class="b"><rect x="513" y="197"/><text x="515" y="209">maryjua01442914</text></g>
<g id="n_oakland10" class="b"><rect x="416" y="199"/><text x="418" y="211">oakland10</text></g>
<g id="n_edgardofernad" class="b"><rect x="311" y="210"/><text x="313" y="222">edgardofernad</text></g>
<g id="n_mike59_sg" class="b"><rect x="380" y="216"/><text x="382" y="228">mike59_sg</text></g>
<g id="n_bisiesto_" class="b"><rect x="338" y="222"/><text x="340" y="234">bisiesto_</text></g>
<g id="n_el_tigr389" class="b"><rect x="440" y="223"/><text x="442" y="235">el_tigr389</text></g>
<g id="n_jimmygarciachi1" class="b"><rect x="496" y="217"/><text x="498" y="229">jimmygarciachi1</text></g>
<g id="n_m3aram71" class="b"><rect x="511" y="229"/><text x="513" y="241">m3aram71</text></g>
<g id="n_somoslarebellon" class="b"><rect x="470" y="237"/><text x="472" y="249">somoslarebellon</text></g>
<g id="n_daldnisal21" class="b"><rect x="321" y="252"/><text x="323" y="264">daldnisal21</text></g>
<g id="n_hectorto76329824" class="b"><rect x="370" y="258"/><text x="372" y="270">hectorto76329824</text></g>
<g id="n_juanhectorgarc3" class="b"><rect x="345" y="264"/><text x="347" y="276">juanhectorgarc3</text></g>
<g id="n_nanagor" class="b"><rect x="395" y="265"/><text x="397" y="277">nanagor</text></g>
<g id="n_sergio_c_santa" class="b"><rect x="425" y="269"/><text x="427" y="281">sergio_c_santa</text></g>
<g id="n_nescobar73" class="b"><rect x="509" y="258"/><text x="511" y="270">nescobar73</text></g>
<g id="n_mundyfv1957" class="b"><rect x="480" y="273"/><text x="482" y="285">mundyfv1957</text></g>
<g id="n_johnre77" class="b"><rect x="331" y="284"/><text x="333" y="296">johnre77</text></g>
<g id="n_aelopezdleon" class="b"><rect x="455" y="286"/><text x="457" y="298">aelopezdleon</text></g>
<g id="n_ariame80382640" class="b"><rect x="510" y="290"/><text x="512" y="302">ariame80382640</text></g>
<g id="n_acpump" class="b"><rect x="346" y="306"/><text x="348" y="318">acpump</text></g>
<g id="n_sasalazarca1" class="b"><rect x="378" y="306"/><text x="380" y="318">sasalazarca1</text></g>
<g id="n_waltmo0703" class="b"><rect x="481" y="313"/><text x="483" y="325">waltmo0703</text></g>
<g id="n_dimatri" class="b"><rect x="403" y="317"/><text x="405" y="329">dimatri</text></g>
<g id="n_gbcnomada" class="b"><rect x="433" y="316"/><text x="435" y="328">gbcnomada</text></g>
<g id="n_marsol9060" class="b"><rect x="466" y="326"/><text x="468" y="338">marsol9060</text></g>
<g id="n_martine38503560" class="b"><rect x="361" y="329"/><text x="363" y="341">martine38503560</text></g>
<g id="n_silviadelvm" class="b"><rect x="381" y="341"/><text x="383" y="353">silviadelvm</text></g>
<g id="n_boaz2011" class="b"><rect x="440" y="342"/><text x="442" y="354">boaz2011</text></g>
<g id="n_isis64_" class="b"><rect x="395" y="349"/><text x="397" y="361">isis64_</text></g>
<g id="n_abuelito_loco" class="b"><rect x="430" y="348"/><text x="432" y="360">abuelito_loco</text></g>
<g id="n_antoasb" class="c"><rect x="315" y="403"/><text x="317" y="415">antoasb</text></g>
<g id="n_lapelapo" class="c"><rect x="458" y="430"/><text x="460" y="442">lapelapo</text></g>
<g id="n_scaceresjl" class="c"><rect x="476" y="433"/><text x="478" y="445">scaceresjl</text></g>
<g id="n_fuego503" class="c"><rect x="336" y="443"/><text x="338" y="455">fuego503</text></g>
<g id="n_orlando22hb" class="c"><rect x="376" y="441"/><text x="378" y="453">orlando22hb</text></g>
<g id="n_nindvioma" class="c"><rect x="483" y="448"/><text x="485" y="460">nindvioma</text></g>
<g id="n_marcosneva482" class="c"><rect x="470" y="453"/><text x="472" y="465">marcosneva482</text></g>
<g id="n_zniavasap" class="c"><rect x="355" y="456"/><text x="357" y="468">zniavasap</text></g>
<g id="n_andoval2" class="c"><rect x="383" y="458"/><text x="385" y="470">andoval2</text></g>
<g id="n_lal246" class="c"><rect x="335" y="463"/><text x="337" y="475">lal246</text></g>
<g id="n_danycorea102021" class="c"><rect x="492" y="464"/><text x="494" y="476">danycorea102021</text></g>
<g id="n_peutronsolo" class="c"><rect x="411" y="471"/><text x="413" y="483">peutronsolo</text></g>
<g id="n_gr2250sv" class="c"><rect x="322" y="478"/><text x="324" y="490">gr2250sv</text></g>
<g id="n_bryan13135" class="c"><rect x="371" y="478"/><text x="373" y="490">bryan13135</text></g>
<g id="n_alegreriafo" class="c"><rect x="498" y="485"/><text x="502" y="497">alegreriafo</text></g>
<g id="n_ricardoramospan" class="c"><rect x="484" y="479"/><text x="486" y="491">ricardoramospan</text></g>
<g id="n_adelportillo" class="c"><rect x="411" y="483"/><text x="413" y="495">adelportillo</text></g>
<g id="n_astridr62440795" class="c"><rect x="318" y="495"/><text x="320" y="507">astridr62440795</text></g>
<g id="n_hastacuandosv" class="c"><rect x="453" y="490"/><text x="455" y="502">hastacuandosv</text></g>
<g id="n_fabrizanko" class="c"><rect x="341" y="502"/><text x="343" y="514">fabrizanko</text></g>
<g id="n_movirsv" class="c"><rect x="370" y="500"/><text x="372" y="512">movirsv</text></g>
<g id="n_fororegon1492" class="c"><rect x="496" y="501"/><text x="498" y="513">fororegon1492</text></g>
<g id="n_pal8085" class="c"><rect x="316" y="513"/><text x="318" y="525">pal8085</text></g>
<g id="n_caml_1120" class="c"><rect x="356" y="516"/><text x="358" y="528">caml_1120</text></g>
<g id="n_calangecalange" class="c"><rect x="413" y="519"/><text x="415" y="531">calangecalange</text></g>
<g id="n_piplies" class="c"><rect x="336" y="526"/><text x="338" y="538">piplies</text></g>
<g id="n_alicia734" class="c"><rect x="318" y="532"/><text x="320" y="544">alicia734</text></g>
<g id="n_carmona_be87487" class="c"><rect x="365" y="538"/><text x="367" y="550">carmona_be87487</text></g>
<g id="n_seguidoraverdad" class="c"><rect x="464" y="534"/><text x="466" y="546">seguidoraverdad</text></g>
<g id="n_titinamarla2" class="c"><rect x="336" y="547"/><text x="338" y="559">titinamarla2</text></g>
<g id="n_ecua_nelson" class="c"><rect x="395" y="547"/><text x="397" y="559">ecua_nelson</text></g>
<g id="n_nes" class="c"><rect x="446" y="547"/><text x="448" y="559">nes</text></g>
<g id="n_dictadura0660" class="c"><rect x="474" y="546"/><text x="476" y="558">dictadura0660</text></g>
<g id="n_adrilmonzor" class="c"><rect x="338" y="553"/><text x="340" y="565">adrilmonzor</text></g>
<g id="n_ricardodiaz1956" class="c"><rect x="386" y="555"/><text x="388" y="567">ricardodiaz1956</text></g>
<g id="n_sajasjunio" class="c"><rect x="517" y="567"/><text x="519" y="579">sajasjunio</text></g>
<g id="n_pablode60560794" class="c"><rect x="429" y="572"/><text x="431" y="584">pablode60560794</text></g>
<g id="n_es09" class="c"><rect x="485" y="603"/><text x="487" y="615">es09</text></g>
<g id="n_william02863104" class="c"><rect x="450" y="604"/><text x="452" y="616">william02863104</text></g>
<g id="n_robertomorenoeu" class="c"><rect x="424" y="616"/><text x="426" y="628">robertomorenoeu</text></g>
<g id="n_juegorivas" class="c"><rect x="461" y="621"/><text x="463" y="633">juegorivas</text></g>
<g id="n_es61689" class="c"><rect x="416" y="630"/><text x="418" y="642">es61689</text></g>
<g id="n_saravisangl" class="c"><rect x="401" y="625"/><text x="403" y="637">saravisangl</text></g>
<g id="n_guevaraulcho" class="d"><rect x="654" y="51"/><text x="656" y="63">guevaraulcho</text></g>
<g id="n_napoleon" class="d"><rect x="643" y="122"/><text x="645" y="134">napoleon</text></g>
<g id="n_josemau702144578" class="d"><rect x="667" y="118"/><text x="681" y="130">josemau702144578</text></g>
<g id="n_miloaries" class="d"><rect x="586" y="135"/><text x="588" y="147">miloaries</text></g>
<g id="n_yani" class="d"><rect x="565" y="142"/><text x="567" y="154">yani</text></g>
<g id="n_ottl_" class="d"><rect x="560" y="147"/><text x="562" y="159">ottl_</text></g>
<g id="n_escorpionmendez" class="d"><rect x="600" y="145"/><text x="602" y="157">escorpionmendez</text></g>
<g id="n_saquemosalterol" class="d"><rect x="591" y="157"/><text x="593" y="169">saquemosalterol</text></g>
<g id="n_vanheron" class="d"><rect x="560" y="162"/><text x="562" y="174">vanheron</text></g>
<g id="n_sarquidos" class="d"><rect x="613" y="162"/><text x="615" y="174">sarquidos</text></g>
<g id="n_sanjimenez2" class="d"><rect x="622" y="169"/><text x="624" y="181">sanjimenez2</text></g>
<g id="n_nelsonm29225789" class="d"><rect x="572" y="173"/><text x="574" y="185">nelsonm29225789</text></g>
<g id="n_rolandoaleman7" class="d"><rect x="553" y="182"/><text x="555" y="194">rolandoaleman7</text></g>
<g id="n_dley1570" class="d"><rect x="615" y="194"/><text x="617" y="206">dley1570</text></g>
<g id="n_patolop27578903" class="d"><rect x="601" y="188"/><text x="603" y="200">patolop27578903</text></g>
<g id="n_calvicky777" class="d"><rect x="560" y="198"/><text x="562" y="210">calvicky777</text></g>
<g id="n_fogata17" class="d"><rect x="548" y="206"/><text x="550" y="218">fogata17</text></g>
<g id="n_edd_cast" class="d"><rect x="625" y="210"/><text x="627" y="222">edd_cast</text></g>
<g id="n_ismaelm35094784" class="d"><rect x="570" y="217"/><text x="572" y="229">ismaelm35094784</text></g>
<g id="n_juans" class="d"><rect x="580" y="224"/><text x="582" y="236">juans</text></g>
<g id="n_luisven88" class="d"><rect x="606" y="223"/><text x="608" y="235">luisven88</text></g>
<g id="n_chencodm124" class="d"><rect x="551" y="230"/><text x="553" y="242">chencodm124</text></g>
<g id="n_marlayolander20" class="d"><rect x="618" y="230"/><text x="620" y="242">marlayolander20</text></g>
<g id="n_liga" class="d"><rect x="578" y="232"/><text x="580" y="244">liga</text></g>
<g id="n_diputadochocol1" class="d"><rect x="626" y="238"/><text x="628" y="250">diputadochocol1</text></g>
<g id="n_eyito" class="d"><rect x="538" y="255"/><text x="540" y="267">eyito</text></g>
<g id="n_gutdb" class="d"><rect x="598" y="253"/><text x="600" y="265">gutdb</text></g>
<g id="n_mtacevedo29" class="d"><rect x="568" y="256"/><text x="570" y="268">mtacevedo29</text></g>
<g id="n_marcelalorenzo9" class="d"><rect x="623" y="259"/><text x="625" y="271">marcelalorenzo9</text></g>
<g id="n_videlsa1" class="d"><rect x="580" y="262"/><text x="582" y="274">videlsa1</text></g>
<g id="n_luzdelu49169604" class="d"><rect x="558" y="272"/><text x="560" y="284">luzdelu49169604</text></g>
<g id="n_nelsayala121" class="d"><rect x="568" y="282"/><text x="570" y="294">nelsayala121</text></g>
<g id="n_minduosal" class="d"><rect x="601" y="290"/><text x="603" y="302">minduosal</text></g>
<g id="n_rsalomonjr" class="d"><rect x="587" y="295"/><text x="589" y="307">rsalomonjr</text></g>
<g id="n_sinnombredoxing" class="d"><rect x="595" y="315"/><text x="597" y="327">sinnombredoxing</text></g>
<g id="n_leonevarro2017" class="d"><rect x="633" y="343"/><text x="635" y="355">leonevarro2017</text></g>
<g id="n_morphy_1915" class="d"><rect x="623" y="362"/><text x="625" y="374">morphy_1915</text></g>
<g id="n_luisalv73397227" class="d"><rect x="561" y="367"/><text x="563" y="379">luisalv73397227</text></g>
<g id="n_bukele" class="d"><rect x="566" y="378"/><text x="568" y="390">bukele</text></g>
<g id="n_salvado61106911" class="d"><rect x="611" y="374"/><text x="613" y="386">salvado61106911</text></g>
<g id="n_montanas2000" class="d"><rect x="600" y="383"/><text x="602" y="395">montanas2000</text></g>
<g id="n_eldoseo49720467" class="f5"><rect x="598" y="438"/><text x="600" y="450">eldoseo49720467</text></g>
<g id="n_pp8" class="f5"><rect x="610" y="443"/><text x="612" y="455">pp8</text></g>
<g id="n_amaliapineda5" class="f5"><rect x="639" y="446"/><text x="641" y="458">amaliapineda5</text></g>
<g id="n_lorenagpeam" class="f5"><rect x="584" y="453"/><text x="586" y="465">lorenagpeam</text></g>
<g id="n_uers30oficial" class="f5"><rect x="656" y="463"/><text x="658" y="475">uers30oficial</text></g>
<g id="n_machacalito" class="f5"><rect x="568" y="467"/><text x="570" y="479">machacalito</text></g>
<g id="n_carlosaric60268" class="f5"><rect x="606" y="485"/><text x="608" y="497">carlosaric60268</text></g>
<g id="n_garcia1982tony" class="f5"><rect x="669" y="487"/><text x="671" y="499">garcia1982tony</text></g>
<g id="n_gacost1025" class="f5"><rect x="556" y="491"/><text x="558" y="503">gacost1025</text></g>
<g id="n_morales1919" class="f5"><rect x="638" y="495"/><text x="640" y="507">morales1919</text></g>
<g id="n_mendezgatineau" class="f5"><rect x="581" y="512"/><text x="583" y="524">mendezgatineau</text></g>
<g id="n_mechaso77" class="f5"><rect x="676" y="514"/><text x="678" y="526">mechaso77</text></g>
<g id="n_francisco110585" class="f5"><rect x="553" y="520"/><text x="555" y="532">francisco110585</text></g>
<g id="n_rbsamuel" class="f5"><rect x="613" y="533"/><text x="615" y="545">rbsamuel</text></g>
<g id="n_maperitaj" class="f5"><rect x="651" y="535"/><text x="653" y="547">maperitaj</text></g>
<g id="n_lazorubio" class="f5"><rect x="678" y="546"/><text x="680" y="558">lazorubio</text></g>
<g id="n_luiscar44311804" class="f5"><rect x="548" y="550"/><text x="550" y="562">luiscar44311804</text></g>
<g id="n_nettina1" class="f5"><rect x="568" y="564"/><text x="570" y="576">nettina1</text></g>
<g id="n_sjv_elsalvador" class="f5"><rect x="596" y="567"/><text x="598" y="579">sjv_elsalvador</text></g>
<g id="n_waltertenang" class="f5"><rect x="640" y="572"/><text x="642" y="584">waltertenang</text></g>
<g id="n_agucas77" class="f5"><rect x="671" y="575"/><text x="673" y="587">agucas77</text></g>
<g id="n_edithsp_" class="f5"><rect x="560" y="588"/><text x="562" y="600">edithsp_</text></g>
<g id="n_schubert2017" class="f5"><rect x="611" y="602"/><text x="613" y="614">schubert2017</text></g>
<g id="n_manuelsarce56" class="f5"><rect x="658" y="602"/><text x="660" y="614">manuelsarce56</text></g>
<g id="n_gabri_gar12" class="f5"><rect x="576" y="611"/><text x="578" y="623">gabri_gar12</text></g>
<g id="n_meleoscurita" class="f5"><rect x="644" y="616"/><text x="646" y="628">meleoscurita</text></g>
<g id="n_mario_peludo" class="f5"><rect x="621" y="631"/><text x="623" y="643">mario_peludo</text></g>
<g id="n_megaisfascism" class="f5"><rect x="595" y="627"/><text x="597" y="639">megaisfascism</text></g>
<g id="n_oscarmachon" class="f"><rect x="816" y="51"/><text x="818" y="63">oscarmachon</text></g>
<g id="n_edwinqu65731670" class="f"><rect x="746" y="57"/><text x="748" y="69">edwinqu65731670</text></g>
<g id="n_pazzuree76" class="f"><rect x="766" y="63"/><text x="768" y="75">pazzuree76</text></g>
<g id="n_ciudadanalupe" class="f"><rect x="730" y="68"/><text x="732" y="80">ciudadanalupe</text></g>
<g id="n_atlanotilas" class="f"><rect x="786" y="91"/><text x="788" y="103">atlanotilas</text></g>
<g id="n_rafaelpaznarve" class="f"><rect x="716" y="94"/><text x="718" y="106">rafaelpaznarve</text></g>
<g id="n_vco71" class="f"><rect x="748" y="94"/><text x="750" y="106">1vco71</text></g>
<g id="n_elez54340" class="f"><rect x="775" y="97"/><text x="777" y="109">elez54340</text></g>
<g id="n_camarada6019" class="f"><rect x="713" y="124"/><text x="715" y="136">camarada6019</text></g>
<g id="n_nortesur7" class="f"><rect x="773" y="130"/><text x="775" y="142">nortesur7</text></g>
<g id="n_armaxes" class="f"><rect x="760" y="141"/><text x="762" y="153">armaxes</text></g>
<g id="n_leonemiseriol" class="f"><rect x="726" y="135"/><text x="728" y="147">leonemiseriol</text></g>
<g id="n_cuzucos" class="f"><rect x="791" y="144"/><text x="793" y="156">cuzucos</text></g>
<g id="n_rodilsegovia" class="f"><rect x="711" y="161"/><text x="713" y="173">rodilsegovia</text></g>
<g id="n_elkic" class="f"><rect x="758" y="177"/><text x="760" y="189">elkic</text></g>
<g id="n_soldadoraso90" class="f"><rect x="788" y="176"/><text x="790" y="188">soldadoraso90</text></g>
<g id="n_raulgarciafe" class="f"><rect x="740" y="183"/><text x="742" y="195">raulgarciafe</text></g>
<g id="n_llanero42" class="f"><rect x="708" y="189"/><text x="710" y="201">llanero42</text></g>
<g id="n_r4455" class="f"><rect x="730" y="189"/><text x="733" y="201">r4455</text></g>
<g id="n_mafaldasv" class="f"><rect x="779" y="204"/><text x="781" y="216">mafaldasv</text></g>
<g id="n_carlosrduenas7" class="f"><rect x="730" y="215"/><text x="732" y="227">carlosrduenas7</text></g>
<g id="n_emersoncortez" class="f"><rect x="748" y="224"/><text x="750" y="236">emersoncortez</text></g>
<g id="n_comradered49" class="g"><rect x="763" y="277"/><text x="765" y="289">comradered49</text></g>
<g id="n_bracugal" class="g"><rect x="786" y="282"/><text x="788" y="294">bracugal</text></g>
<g id="n_meliicruz39" class="g"><rect x="756" y="297"/><text x="758" y="309">meliicruz39</text></g>
<g id="n_bukel" class="g"><rect x="765" y="306"/><text x="767" y="318">bukel</text></g>
<g id="n_danjustpeace" class="g"><rect x="795" y="305"/><text x="797" y="317">danjustpeace</text></g>
<g id="n_lucida2023" class="g"><rect x="761" y="329"/><text x="763" y="341">lucida2023</text></g>
<g id="n_le_macdougall" class="g"><rect x="800" y="332"/><text x="802" y="344">le_macdougall</text></g>
<g id="n_cispes" class="g"><rect x="775" y="342"/><text x="777" y="354">cispes</text></g>
<g id="n_dichosdeunbicho" class="g"><rect x="800" y="363"/><text x="802" y="375">dichosdeunbicho</text></g>
<g id="n_mxgxw_gamme" class="g"><rect x="750" y="368"/><text x="752" y="380">mxgxw_gamme</text></g>
<g id="n_samsungsv19" class="g"><rect x="766" y="385"/><text x="768" y="397">samsungsv19</text></g>
<g id="n_vduranjs1" class="g"><rect x="733" y="387"/><text x="735" y="399">vduranjs1</text></g>
<g id="n_mariohercules9" class="g"><rect x="788" y="397"/><text x="790" y="409">mariohercules9</text></g>
<g id="n_kadoshkados" class="g"><rect x="776" y="407"/><text x="778" y="419">kadoshkados</text></g>
<g id="n_templeofevil347" class="g"><rect x="710" y="408"/><text x="712" y="420">templeofevil347</text></g>
<g id="n_ysuca91siete" class="h"><rect x="883" y="51"/><text x="885" y="63">ysuca91siete</text></g>
<g id="n_prensagrafica" class="h"><rect x="876" y="61"/><text x="878" y="73">prensagrafica</text></g>
<g id="n_cnn" class="h"><rect x="897" y="84"/><text x="899" y="96">cnn</text></g>
<g id="n_infobae" class="h"><rect x="915" y="84"/><text x="917" y="96">infobae</text></g>
<g id="n_edhnoticias" class="h"><rect x="877" y="89"/><text x="879" y="101">edhnoticias</text></g>
<g id="n_elindependiente" class="h"><rect x="886" y="109"/><text x="888" y="121">elindependiente</text></g>
<g id="n_telesurtv" class="h"><rect x="916" y="116"/><text x="918" y="128">telesurtv</text></g>
<g id="n_peturrieove" class="h"><rect x="848" y="116"/><text x="850" y="128">peturrieove</text></g>
<g id="n_radioysid" class="h"><rect x="866" y="141"/><text x="868" y="153">radioysid</text></g>
<g id="n_noticias" class="h"><rect x="886" y="147"/><text x="888" y="159">noticias</text></g>
<g id="n_agenciatelam" class="h"><rect x="910" y="144"/><text x="912" y="156">agenciatelam</text></g>
<g id="n_dw_espanol" class="h"><rect x="904" y="166"/><text x="906" y="178">dw_espanol</text></g>
<g id="n_arturo152915865" class="h"><rect x="856" y="176"/><text x="858" y="188">arturo152915865</text></g>
<g id="n_emisariosv" class="h"><rect x="865" y="195"/><text x="867" y="207">emisariosv</text></g>
<g id="n_arely_ysid" class="h"><rect x="848" y="224"/><text x="850" y="236">arely_ysid</text></g>
<g id="n_scanpolitico" class="i"><rect x="836" y="277"/><text x="838" y="289">scanpolitico</text></g>
<g id="n_edwin_u" class="i"><rect x="848" y="314"/><text x="850" y="326">edwin_u</text></g>
<g id="n_jose" class="i"><rect x="849" y="319"/><text x="851" y="331">jose</text></g>
<g id="n_carloselsalvad" class="i"><rect x="875" y="317"/><text x="877" y="329">carloselsalvad</text></g>
<g id="n_claudia87193582" class="i"><rect x="848" y="343"/><text x="850" y="355">claudia87193582</text></g>
<g id="n_ingenieros" class="i"><rect x="888" y="343"/><text x="890" y="355">ingenieros</text></g>
<g id="n_wfod2214" class="i"><rect x="833" y="359"/><text x="835" y="371">wfod2214</text></g>
<g id="n_wrjade" class="i"><rect x="861" y="358"/><text x="863" y="370">wrjade</text></g>
<g id="n_independientesv" class="i"><rect x="908" y="360"/><text x="910" y="372">independientesv</text></g>
<g id="n_mizquierdasv" class="i"><rect x="896" y="373"/><text x="898" y="385">mizquierdasv</text></g>
<g id="n_jmperalta" class="i"><rect x="836" y="382"/><text x="838" y="394">jmperalta</text></g>
<g id="n_vilmaberba1" class="i"><rect x="875" y="384"/><text x="877" y="396">vilmaberba1</text></g>
<g id="n_ocsalkam" class="i"><rect x="845" y="397"/><text x="847" y="409">ocsalkam</text></g>
<g id="n_juangone5713838" class="i"><rect x="861" y="404"/><text x="863" y="416">juangone5713838</text></g>
<g id="n_malinac25279550" class="i"><rect x="908" y="408"/><text x="910" y="420">malinac25279550</text></g>
<g id="n_colmed_es" class="j"><rect x="721" y="462"/><text x="723" y="474">colmed_es</text></g>
<g id="n_inseveldezsv" class="j"><rect x="741" y="494"/><text x="743" y="506">inseveldezsv</text></g>
<g id="n_franelabl" class="j"><rect x="708" y="497"/><text x="710" y="509">franelabl</text></g>
<g id="n_diariocolatino" class="j"><rect x="725" y="523"/><text x="727" y="535">diariocolatino</text></g>
<g id="n_sofia_marcan0" class="j"><rect x="758" y="542"/><text x="760" y="554">sofia_marcan0</text></g>
<g id="n_mele_wh" class="j"><rect x="711" y="549"/><text x="713" y="561">mele_wh</text></g>
<g id="n_bp1986" class="j"><rect x="736" y="549"/><text x="738" y="561">bp1986</text></g>
<g id="n_naylb" class="j"><rect x="738" y="576"/><text x="740" y="588">naylb</text></g>
<g id="n_efebosbel" class="j"><rect x="761" y="573"/><text x="763" y="585">efebosbel</text></g>
<g id="n_alejandumiranda" class="j"><rect x="726" y="597"/><text x="728" y="609">alejandumiranda</text></g>
<g id="n_leo1980" class="j"><rect x="758" y="596"/><text x="760" y="608">leo1980</text></g>
<g id="n_laur" class="j"><rect x="725" y="630"/><text x="727" y="642">laur</text></g>
<g id="n_ricardoadeng" class="j"><rect x="751" y="628"/><text x="753" y="640">ricardoadeng</text></g>
<g id="n_exarivera14" class="k2"><rect x="816" y="462"/><text x="818" y="474">exarivera14</text></g>
<g id="n_elnomuerto2" class="k2"><rect x="800" y="472"/><text x="802" y="484">elnomuerto2</text></g>
<g id="n_armasdebarro1" class="k2"><rect x="826" y="487"/><text x="828" y="499">armasdebarro1</text></g>
<g id="n_luisa6968" class="k2"><rect x="795" y="509"/><text x="797" y="521">luisa6968</text></g>
<g id="n_carlos84160423" class="k2"><rect x="833" y="533"/><text x="835" y="545">carlos84160423</text></g>
<g id="n_ricitosdecoco" class="k2"><rect x="813" y="547"/><text x="815" y="559">ricitosdecoco</text></g>
<g id="n_alcaldia_nc" class="k2"><rect x="793" y="561"/><text x="795" y="573">alcaldia_nc</text></g>
<g id="n_leopared21" class="k2"><rect x="830" y="584"/><text x="832" y="596">leopared21</text></g>
<g id="n_edgarsanchezsv" class="k2"><rect x="799" y="607"/><text x="801" y="619">edgarsanchezsv</text></g>
<g id="n_garcia21julio" class="k2"><rect x="818" y="622"/><text x="820" y="634">garcia21julio</text></g>
<g id="n_10verocastillos" class="k2"><rect x="816" y="631"/><text x="818" y="643">10verocastillos</text></g>
<g id="n_roxyhen_886" class="l"><rect x="861" y="471"/><text x="863" y="483">roxyhen_886</text></g>
<g id="n_prensadigital1" class="l"><rect x="908" y="471"/><text x="910" y="483">prensadigital1</text></g>
<g id="n_deli" class="l"><rect x="864" y="486"/><text x="866" y="498">deli</text></g>
<g id="n_jesusenvalo5" class="l"><rect x="890" y="486"/><text x="892" y="498">jesusenvalo5</text></g>
<g id="n_musikeys1" class="m"><rect x="872" y="551"/><text x="874" y="563">musikeys1</text></g>
<g id="n_momotosqj" class="m"><rect x="868" y="558"/><text x="870" y="570">momotosqj</text></g>
<g id="n_marionyaque" class="o"><rect x="911" y="552"/><text x="913" y="564">marionyaque</text></g>
<g id="n_alliance4dem_sv" class="o"><rect x="911" y="558"/><text x="913" y="570">alliance4dem_sv</text></g>
<g id="n_patriciopineda" class="q"><rect x="870" y="620"/><text x="872" y="632">patriciopineda</text></g>
<g id="n_jonn_castellon" class="q"><rect x="870" y="627"/><text x="872" y="639">jonn_castellon</text></g>
<g id="n_rolfiig42" class="t"><rect x="911" y="620"/><text x="913" y="632">rolfiig42</text></g>
<g id="n_svfactory" class="t"><rect x="911" y="627"/><text x="913" y="639">svfactory</text></g>
</g>
</svg>
